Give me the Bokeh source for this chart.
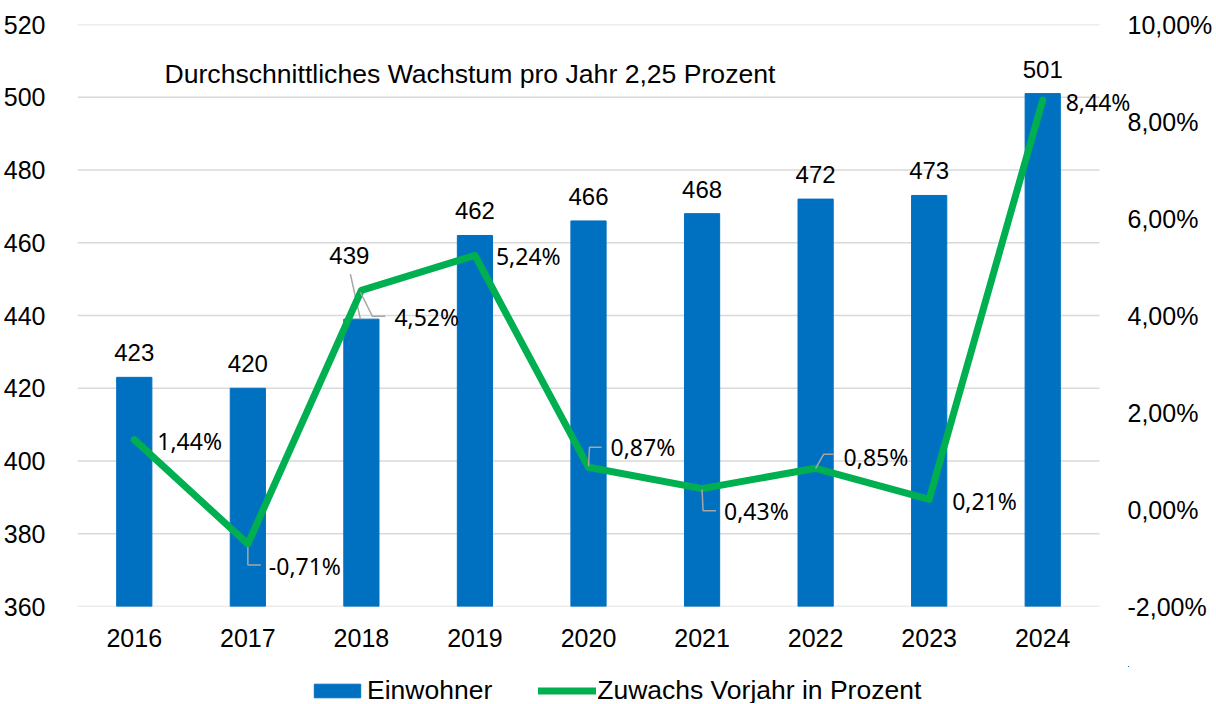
from bokeh.plotting import figure
from bokeh.layouts import column
from bokeh.models import (Range1d, LinearAxis, FixedTicker, Legend, LegendItem,
                          CustomJSTickFormatter, ColumnDataSource, LabelSet)
from bokeh.core.properties import value
from bokeh.embed import file_html
from bokeh.resources import INLINE

# ---------------- data ----------------
years = ["2016", "2017", "2018", "2019", "2020", "2021", "2022", "2023", "2024"]
einwohner = [423, 420, 439, 462, 466, 468, 472, 473, 501]
zuwachs = [1.44, -0.71, 4.52, 5.24, 0.87, 0.43, 0.85, 0.21, 8.44]
zuwachs_labels = ["1,44%", "-0,71%", "4,52%", "5,24%", "0,87%", "0,43%", "0,85%", "0,21%", "8,44%"]
left_ticks = [360, 380, 400, 420, 440, 460, 480, 500, 520]
right_ticks = [-2, 0, 2, 4, 6, 8, 10]
note = "Durchschnittliches Wachstum pro Jahr 2,25 Prozent"
series_names = ["Einwohner", "Zuwachs Vorjahr in Prozent"]

# ---------------- layout / style ----------------
PLOT_W, FRAME_H = 1022, 582      # visible plot area (gridline length) and height
EXTRA_W = 36                     # extra frame room so the last data label is not clipped
BORDER_L, BORDER_R, BORDER_T, BORDER_B = 72, 114, 24, 60
LEGEND_H = 37
LEFT_RANGE = (360, 520)
RIGHT_RANGE = (-2, 10)
BLUE = "#0070C0"
GREEN = "#00B050"
GRID = "#D9D9D9"
LEADER = "#A6A6A6"
FONT = "Liberation Sans"
LABEL_FONT = "Noto Sans"

# label offsets in pixels (dx right, dy up)
bar_label_off = [(0, 16)] * 9
bar_label_off[2] = (-12, 55)
pct_label_off = [(23, -1), (21, -22), (33, -27), (21, -1), (22, 20), (22, -22), (28, 11), (23, -2), (23, -1.5)]
# leader polylines in pixel offsets from the point (dx right, dy down; None = no leader)
pct_leaders = [None,
               [(0, 3), (0, 21), (13, 21)],
               [(-1, 2), (11, 26), (24, 26)],
               None,
               [(0, -1), (1, -20), (13, -20)],
               [(0, 1), (1, 22), (14, 22)],
               [(0, 0), (8, -14), (18, -14)],
               None,
               None]
bar_leaders = [None, None, [(-11, -45), (-1, 0)], None, None, None, None, None, None]

n = len(years)
xs = list(range(n))
px_x = PLOT_W / n                                    # px per x unit
px_left = FRAME_H / (LEFT_RANGE[1] - LEFT_RANGE[0])  # px per left unit
px_right = FRAME_H / (RIGHT_RANGE[1] - RIGHT_RANGE[0])
x_lo, x_hi = -0.5, n - 0.5
TOTAL_W = BORDER_L + PLOT_W + BORDER_R

p = figure(frame_width=PLOT_W + EXTRA_W, frame_height=FRAME_H,
           min_border_left=BORDER_L, min_border_right=BORDER_R - EXTRA_W,
           min_border_top=BORDER_T, min_border_bottom=BORDER_B,
           x_range=Range1d(x_lo, x_hi + EXTRA_W / px_x), y_range=Range1d(*LEFT_RANGE),
           output_backend="svg", toolbar_location=None, title=None)
p.extra_y_ranges = {"pct": Range1d(*RIGHT_RANGE)}
p.outline_line_color = None
p.xgrid.visible = False
p.ygrid.visible = False

# horizontal gridlines (drawn only over the category area)
p.segment(x0=[x_lo] * len(left_ticks), x1=[x_hi] * len(left_ticks), y0=left_ticks, y1=left_ticks,
          line_color=GRID, line_width=1.3)

# axes
for ax in [p.xaxis[0], p.yaxis[0]]:
    ax.axis_line_color = None
    ax.major_tick_line_color = None
    ax.minor_tick_line_color = None
    ax.major_label_text_font = FONT
    ax.major_label_text_font_size = "25px"
    ax.major_label_text_color = "#000000"
p.yaxis[0].ticker = FixedTicker(ticks=left_ticks)
p.yaxis[0].major_label_standoff = 26
p.xaxis[0].ticker = FixedTicker(ticks=xs)
p.xaxis[0].major_label_overrides = {i: y for i, y in enumerate(years)}
p.xaxis[0].major_label_standoff = 16

rax = LinearAxis(y_range_name="pct", ticker=FixedTicker(ticks=right_ticks),
                 formatter=CustomJSTickFormatter(code="return tick.toFixed(2).replace('.', ',') + '%';"))
rax.axis_line_color = None
rax.major_tick_line_color = None
rax.minor_tick_line_color = None
rax.major_label_text_font = FONT
rax.major_label_text_font_size = "25px"
rax.major_label_text_color = "#000000"
rax.major_label_standoff = 22 - EXTRA_W
p.add_layout(rax, "right")

# bars
bars = p.vbar(x=xs, top=einwohner, bottom=LEFT_RANGE[0], width=0.31,
              fill_color=BLUE, line_color=BLUE)

# bar leaders
for i, ld in enumerate(bar_leaders):
    if ld:
        p.line(x=[xs[i] + dx / px_x for dx, dy in ld],
               y=[einwohner[i] - dy / px_left for dx, dy in ld],
               line_color=LEADER, line_width=1.5)

# bar value labels
bar_src = ColumnDataSource(dict(x=xs, y=einwohner, t=[str(v) for v in einwohner],
                                dx=[o[0] for o in bar_label_off], dy=[o[1] for o in bar_label_off]))
p.add_layout(LabelSet(x="x", y="y", text="t", x_offset="dx", y_offset="dy", source=bar_src,
                      text_align="center", text_baseline="alphabetic",
                      text_font=value(FONT), text_font_size="24px", text_color="#000000"))

# growth line
line = p.line(x=xs, y=zuwachs, y_range_name="pct", line_color=GREEN, line_width=7,
              line_join="round", line_cap="round")

# pct leaders
for i, ld in enumerate(pct_leaders):
    if ld:
        p.line(x=[xs[i] + dx / px_x for dx, dy in ld],
               y=[zuwachs[i] - dy / px_right for dx, dy in ld],
               y_range_name="pct", line_color=LEADER, line_width=1.5)

# pct labels
pct_src = ColumnDataSource(dict(x=xs, y=zuwachs, t=zuwachs_labels,
                                dx=[o[0] for o in pct_label_off], dy=[o[1] for o in pct_label_off]))
p.add_layout(LabelSet(x="x", y="y", text="t", x_offset="dx", y_offset="dy", source=pct_src,
                      y_range_name="pct", text_align="left", text_baseline="middle",
                      text_font=value(LABEL_FONT), text_font_size="23px", text_color="#000000"))

# note text
p.text(x=[x_lo + 87 / px_x], y=[LEFT_RANGE[1] - 49.5 / px_left], text=[note],
       text_align="left", text_baseline="alphabetic",
       text_font=value(FONT), text_font_size="26.6px", text_color="#000000")

# ---------------- legend strip (own small figure below the chart) ----------------
# the series are re-drawn here outside the visible range, only to feed the legend glyphs
lf = figure(width=TOTAL_W, height=LEGEND_H, x_range=Range1d(-20, -19), y_range=Range1d(-20, -19),
            min_border_left=0, min_border_right=0, min_border_top=0, min_border_bottom=0,
            output_backend="svg", toolbar_location=None, title=None)
lf.axis.visible = False
lf.grid.visible = False
lf.outline_line_color = None
lbar = lf.vbar(x=xs, top=einwohner, width=0.31, fill_color=BLUE, line_color=BLUE)
lline = lf.line(x=xs, y=zuwachs, line_color=GREEN, line_width=7, line_cap="round")
legend = Legend(items=[LegendItem(label=series_names[0], renderers=[lbar]),
                       LegendItem(label=series_names[1], renderers=[lline])],
                location=(231, -3), orientation="horizontal",
                glyph_width=58, glyph_height=17, label_standoff=1, spacing=46,
                padding=0, margin=0, border_line_color=None, background_fill_alpha=0,
                label_text_font=FONT, label_text_font_size="26.5px", label_text_color="#000000")
lf.add_layout(legend, "center")

layout = column(p, lf, spacing=0)
open("out.html", "w").write(file_html(layout, INLINE))
